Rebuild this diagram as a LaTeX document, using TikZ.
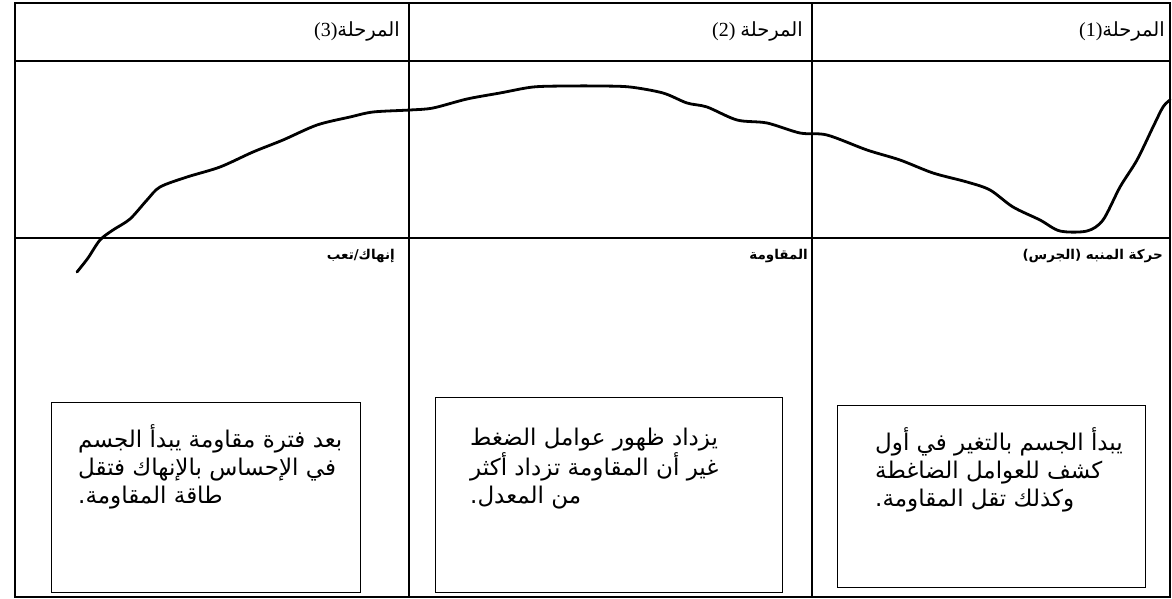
\documentclass[tikz,border=0pt]{standalone}
\usepackage{fontspec}
\setmainfont{Liberation Serif}
\newfontfamily\arabicfont[Script=Arabic]{DejaVu Sans}
\TeXXeTstate=1
\usetikzlibrary{positioning, calc}

\begin{document}
\begin{tikzpicture}[x=1pt,y=-1pt,
    griglia/.style={line width=1.6pt},
    curva/.style={line width=2.8pt, line cap=round, line join=round},
    fase/.style={inner sep=0pt, anchor=east, font=\fontsize{20}{22}\selectfont},
    titolo/.style={inner sep=0pt, anchor=east, font=\arabicfont\bfseries\fontsize{13.5}{16}\selectfont},
    riquadro/.style={draw, line width=0.7pt, inner sep=0pt, anchor=north west},
    testo/.style={inner sep=0pt, align=left, font=\arabicfont\fontsize{23}{28}\selectfont}]
    \useasboundingbox (0,0) rectangle (1172,599);
    % Griglia
    \draw[griglia] (15,3) rectangle (1170,597);
    \draw[griglia] (15,61) -- (1170,61);
    \draw[griglia] (15,238) -- (1170,238);
    \draw[griglia] (409,3) -- (409,597);
    \draw[griglia] (812,3) -- (812,597);
    % Fasi
    \node[fase] (fase3) at (400,31) {(3){\arabicfont\fontsize{19.5}{21}\selectfont\beginR المرحلة\endR}};
    \node[fase] (fase2) at (803,31) {(2) {\arabicfont\fontsize{19.5}{21}\selectfont\beginR المرحلة\endR}};
    \node[fase] (fase1) at (1165,31) {(1){\arabicfont\fontsize{19.5}{21}\selectfont\beginR المرحلة\endR}};
    % Curva
    \draw[curva] plot[smooth, tension=0.5] coordinates {
        (77,272) (88,258) (100,240) (113,230) (130,219) (147,200) (160,187)
        (187,177) (220,167) (253,152) (283,140) (317,125) (350,117) (373,112)
        (410,110) (433,108) (467,99) (500,93) (533,87) (567,86) (600,86)
        (630,87) (663,93) (687,103) (707,107) (737,120) (767,123) (800,133)
        (827,135) (867,150) (900,160) (933,173) (967,182) (990,190) (1013,207)
        (1040,220) (1060,231) (1087,231) (1103,220) (1120,187) (1137,160)
        (1153,127) (1163,107) (1170,100)};
    % Titoli
    \node[titolo] (tit3) at (395,256) {\beginR إنهاك/تعب\endR};
    \node[titolo] (tit2) at (808,256) {\beginR المقاومة\endR};
    \node[titolo] (tit1) at (1163,256) {\beginR حركة المنبه (الجرس)\endR};
    % Riquadri
    \node[riquadro, minimum width=309pt, minimum height=190pt] (box3) at (51,402) {};
    \node[riquadro, minimum width=347pt, minimum height=195pt] (box2) at (435,397) {};
    \node[riquadro, minimum width=308pt, minimum height=182pt] (box1) at (837,405) {};
    \node[testo, below right=22pt and 27pt of box3.north west] (txt3)
        {\beginR بعد فترة مقاومة يبدأ الجسم\endR\\
         \beginR في الإحساس بالإنهاك فتقل\endR\\
         \beginR طاقة المقاومة.\endR};
    \node[testo, below right=31pt and 35pt of box2.north west] (txt2)
        {\beginR يزداد ظهور عوامل الضغط\endR\\
         \beginR غير أن المقاومة تزداد أكثر\endR\\
         \beginR من المعدل.\endR};
    \node[testo, below right=22pt and 38pt of box1.north west] (txt1)
        {\beginR يبدأ الجسم بالتغير في أول\endR\\
         \beginR كشف للعوامل الضاغطة\endR\\
         \beginR وكذلك تقل المقاومة.\endR};
\end{tikzpicture}
\end{document}
